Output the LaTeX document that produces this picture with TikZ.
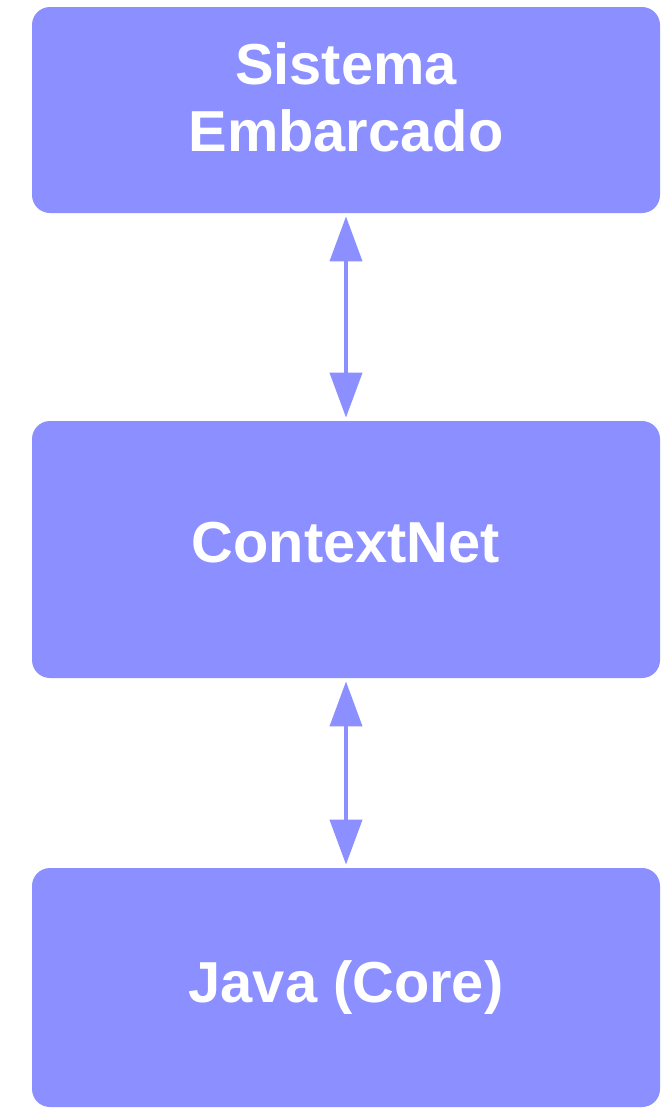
\documentclass[tikz,border=0pt]{standalone}
\usepackage{fontspec}
\setmainfont{Liberation Sans}
\usetikzlibrary{arrows.meta}
\definecolor{boxblue}{HTML}{8B8FFF}
\begin{document}
\begin{tikzpicture}[x=0.5pt,y=-0.5pt,
  caixa/.style={fill=boxblue, draw=none, rounded corners=9pt, minimum width=314pt, text=white, font=\fontsize{28.9}{33.5}\selectfont\bfseries, align=center, inner sep=0pt},
  seta/.style={{Triangle[length=22.5pt,width=16pt]}-{Triangle[length=22.5pt,width=16pt]}, boxblue, line width=2pt, shorten <=1.5pt, shorten >=1.5pt}]
\useasboundingbox (0,0) rectangle (669,1109);

\node (sistema) at (346,110) [caixa, minimum height=103pt, text depth=13pt] {Sistema\\Embarcado};
\node (contextnet) at (346,549.5) [caixa, minimum height=128.5pt, text depth=7.5pt] {ContextNet};
\node (java) at (346,987.5) [caixa, minimum height=119.5pt] {Java (Core)};

\draw [seta] (sistema) -- (contextnet);
\draw [seta] (contextnet) -- (java);
\end{tikzpicture}
\end{document}
